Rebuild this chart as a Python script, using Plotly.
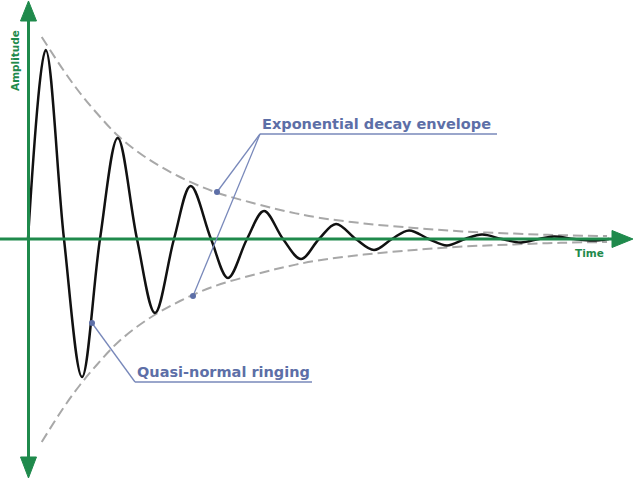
import plotly.graph_objects as go

# ---- data (time in periods, amplitude normalised) ----
ring_t = [0.0, 0.243, 0.493, 0.740, 0.986, 1.229, 1.493, 1.740, 2.0, 2.229, 2.507,
          2.740, 3.0, 3.233, 3.493, 3.740, 3.986, 4.219, 4.49, 4.74, 4.986, 5.219,
          5.49, 5.74, 5.986, 6.219, 6.49, 6.753, 7.0, 7.205, 7.48, 7.73, 7.96]
ring_a = [0.0, 0.945, 0.0, -0.69, 0.0, 0.505, 0.0, -0.37, 0.0, 0.265, 0.0,
          -0.195, 0.0, 0.14, 0.0, -0.10, 0.0, 0.075, 0.0, -0.055, 0.0, 0.043,
          0.0, -0.032, 0.0, 0.022, 0.0, -0.017, 0.0, 0.012, 0.0, -0.008, 0.0]

env_t = [0.188, 0.484, 0.712, 0.941, 1.237, 1.626, 2.082, 2.562, 3.08, 3.52,
         3.96, 4.6, 5.29, 5.95, 6.66, 7.3, 7.932]
env_upper = [1.01, 0.845, 0.73, 0.63, 0.515, 0.405, 0.31, 0.235, 0.18, 0.14,
             0.108, 0.078, 0.055, 0.038, 0.027, 0.019, 0.015]
env_lower = [-1.015, -0.845, -0.73, -0.63, -0.515, -0.405, -0.31, -0.235, -0.18, -0.14,
             -0.108, -0.078, -0.055, -0.038, -0.027, -0.019, -0.015]

axis_labels = ["Amplitude", "Time"]
callouts = ["Exponential decay envelope", "Quasi-normal ringing"]

W, H = 634, 480
GREEN = "#1f8a4c"
BLUE_T = "#5d6fa7"
BLUE_L = "#7888ba"
GRAY = "#a8a8a8"

def px(x):
    return x / W

def py(y):
    return 1 - y / H

fig = go.Figure()
fig.add_trace(go.Scatter(x=env_t, y=env_upper, mode="lines",
                         line=dict(color=GRAY, width=2, dash="10px,5px", shape="spline")))
fig.add_trace(go.Scatter(x=env_t, y=env_lower, mode="lines",
                         line=dict(color=GRAY, width=2, dash="10px,5px", shape="spline")))
fig.add_trace(go.Scatter(x=ring_t, y=ring_a, mode="lines",
                         line=dict(color="#111111", width=2.5, shape="spline", smoothing=1.0)))

shapes = []
# axes
shapes.append(dict(type="line", xref="paper", yref="paper", x0=px(0), x1=px(614),
                   y0=py(239), y1=py(239), line=dict(color=GREEN, width=3)))
shapes.append(dict(type="line", xref="paper", yref="paper", x0=px(28.5), x1=px(28.5),
                   y0=py(18), y1=py(460), line=dict(color=GREEN, width=3)))
def tri(pts):
    d = "M " + " L ".join(f"{px(a):.5f},{py(b):.5f}" for a, b in pts) + " Z"
    return dict(type="path", xref="paper", yref="paper", path=d,
                fillcolor=GREEN, line=dict(color=GREEN, width=1))
shapes.append(tri([(612, 230.5), (633, 239), (612, 247.5)]))
shapes.append(tri([(20.5, 21), (28.5, 1), (36.5, 21)]))
shapes.append(tri([(20.5, 457), (28.5, 478), (36.5, 457)]))

# callout lines
def seg(x0, y0, x1, y1, w=1.3):
    return dict(type="line", xref="paper", yref="paper", x0=px(x0), y0=py(y0),
                x1=px(x1), y1=py(y1), line=dict(color=BLUE_L, width=w))
def dot(x, y, r=3):
    return dict(type="circle", xref="paper", yref="paper", x0=px(x - r), x1=px(x + r),
                y0=py(y - r), y1=py(y + r), fillcolor=BLUE_T, line=dict(width=0))
shapes += [seg(260, 134, 497, 134), seg(260, 134, 217, 192), seg(260, 134, 193, 296),
           dot(217, 192), dot(193, 296),
           seg(135, 382, 312, 382), seg(135, 382, 92, 323), dot(92, 323)]

annotations = [
    dict(text=f"<b>{callouts[0]}</b>", xref="paper", yref="paper", x=px(260), y=py(134),
         xanchor="left", yanchor="bottom", showarrow=False,
         font=dict(family="DejaVu Sans", size=14.5, color=BLUE_T)),
    dict(text=f"<b>{callouts[1]}</b>", xref="paper", yref="paper", x=px(135), y=py(382),
         xanchor="left", yanchor="bottom", showarrow=False,
         font=dict(family="DejaVu Sans", size=14.5, color=BLUE_T)),
    dict(text=f"<b>{axis_labels[0]}</b>", xref="paper", yref="paper", x=px(15), y=py(61),
         xanchor="center", yanchor="middle", showarrow=False, textangle=-90,
         font=dict(family="DejaVu Sans", size=10.5, color=GREEN)),
    dict(text=f"<b>{axis_labels[1]}</b>", xref="paper", yref="paper", x=px(589), y=py(253),
         xanchor="center", yanchor="middle", showarrow=False,
         font=dict(family="DejaVu Sans", size=10.5, color=GREEN)),
]

fig.update_layout(
    width=W, height=H, margin=dict(l=0, r=0, t=0, b=0), autosize=False,
    paper_bgcolor="white", plot_bgcolor="white", showlegend=False,
    xaxis=dict(range=[-28 / 73, 606 / 73], visible=False, fixedrange=True),
    yaxis=dict(range=[-241 / 200, 239 / 200], visible=False, fixedrange=True),
    shapes=shapes, annotations=annotations,
)
fig.write_html("out.html", config={"displayModeBar": False},
               post_script="document.body.style.margin='0px';document.body.style.overflow='hidden';")
